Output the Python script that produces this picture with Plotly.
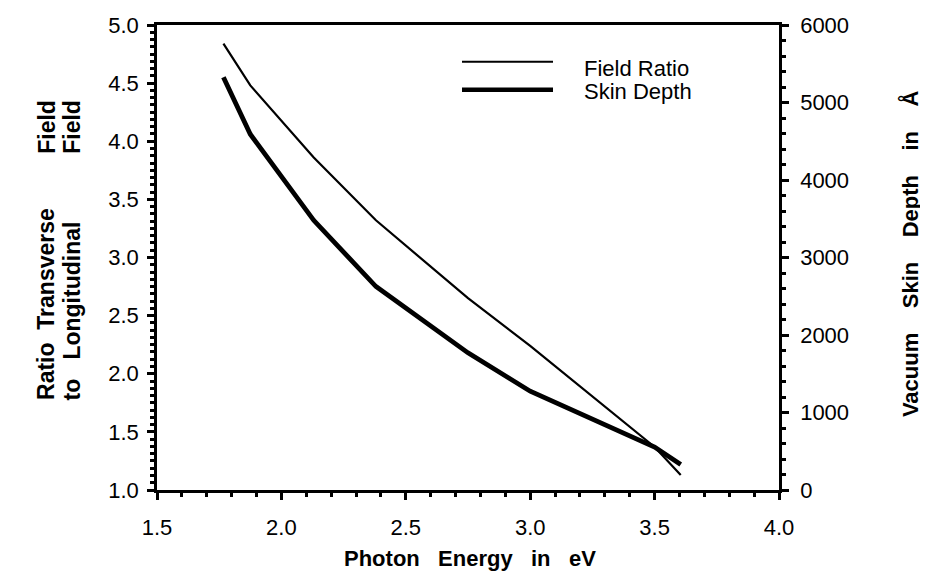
import plotly.graph_objects as go

# Data
energy_eV = [1.767, 1.875, 2.13, 2.38, 2.75, 3.00, 3.50, 3.605]
field_ratio = [4.84, 4.48, 3.86, 3.32, 2.65, 2.24, 1.37, 1.13]
skin_depth_A = [5325, 4590, 3480, 2625, 1770, 1275, 555, 330]

series_names = ["Field Ratio", "Skin Depth"]
x_ticks = [1.5, 2.0, 2.5, 3.0, 3.5, 4.0]
y_ticks = [1.0, 1.5, 2.0, 2.5, 3.0, 3.5, 4.0, 4.5, 5.0]
y2_ticks = [0, 1000, 2000, 3000, 4000, 5000, 6000]

FONT = "Liberation Sans, Arial, sans-serif"
def gap(n):
    return "\u00a0" * n

# figure is drawn inside the page body (8px default margin)
W, H = 920, 568
L, R, T, B = 149, 149, 5, 86
PW, PH = W - L - R, H - T - B

def px(xp):
    return (xp - L) / PW

def py(yp):
    return (H - B - yp) / PH

fig = go.Figure()
fig.add_trace(go.Scatter(x=energy_eV, y=field_ratio, mode="lines", name=series_names[0],
                         line=dict(color="black", width=2.2), showlegend=False))
fig.add_trace(go.Scatter(x=energy_eV, y=skin_depth_A, mode="lines", name=series_names[1],
                         line=dict(color="black", width=4.8), yaxis="y2", showlegend=False))

tick_font = dict(family=FONT, size=22, color="black")
axis_common = dict(showgrid=False, zeroline=False, linecolor="black", linewidth=2.5,
                   ticks="outside", tickcolor="black", tickwidth=2.5, ticklen=7,
                   tickfont=tick_font, ticklabeloverflow="allow")
minor_common = dict(ticks="outside", ticklen=4, tickwidth=2.5, tickcolor="black")

fig.update_layout(
    width=W, height=H,
    margin=dict(l=L, r=R, t=T, b=B),
    paper_bgcolor="white", plot_bgcolor="white",
    xaxis=dict(range=[1.5, 4.0], tickvals=x_ticks, tickformat=".1f", mirror=True,
               ticklabelstandoff=9, minor=dict(dtick=0.1, **minor_common), **axis_common),
    yaxis=dict(range=[1.0, 5.0], tickvals=y_ticks, tickformat=".1f",
               ticklabelstandoff=4, minor=dict(dtick=0.0625, **minor_common), **axis_common),
    yaxis2=dict(range=[0, 6000], tickvals=y2_ticks, overlaying="y", side="right",
                ticklabelstandoff=7, minor=dict(dtick=200, **minor_common), **axis_common),
)

title_font = dict(family=FONT, size=22, color="black")
left_title_font = dict(family=FONT, size=23, color="black")

# x-axis title
fig.add_annotation(text=f"<b>Photon{gap(3)}Energy{gap(3)}in{gap(3)}eV</b>", xref="paper", yref="paper",
                   x=px(462), y=py(552), xanchor="center", yanchor="middle", showarrow=False,
                   font=title_font)

# left titles (two lines, words justified top/bottom)
for xc, first, last in [(38.7, f"Ratio{gap(2)}Transverse", "Field"),
                        (63.7, f"to{gap(3)}Longitudinal", "Field")]:
    fig.add_annotation(text=f"<b>{first}</b>", xref="paper", yref="paper",
                       x=px(xc), y=py(392), xanchor="center", yanchor="bottom",
                       textangle=-90, showarrow=False, font=left_title_font)
    fig.add_annotation(text=f"<b>{last}</b>", xref="paper", yref="paper",
                       x=px(xc), y=py(80), xanchor="center", yanchor="top",
                       textangle=-90, showarrow=False, font=left_title_font)

# right title
fig.add_annotation(text=f"<b>Vacuum{gap(4)}Skin{gap(4)}Depth{gap(4)}in{gap(4)}Å</b>",
                   xref="paper", yref="paper", x=px(902), y=py(240), xanchor="center",
                   yanchor="middle", textangle=-90, showarrow=False, font=title_font)

# Legend drawn manually
leg_font = dict(family=FONT, size=22, color="black")
for name, w, yl, yt in zip(series_names, [2.2, 4.5], [42.7, 71.3], [50, 73]):
    fig.add_shape(type="line", xref="paper", yref="paper", x0=px(454), x1=px(545),
                  y0=py(yl), y1=py(yl), line=dict(color="black", width=w))
    fig.add_annotation(text=name, xref="paper", yref="paper", x=px(574), y=py(yt),
                       xanchor="left", yanchor="middle", showarrow=False, font=leg_font)

fig.write_html("out.html")
